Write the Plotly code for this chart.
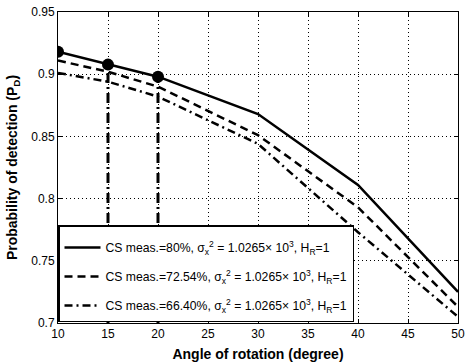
import plotly.graph_objects as go

angles = [10, 15, 20, 30, 40, 50]
pd_80 = [0.918, 0.9077, 0.898, 0.868, 0.811, 0.725]
pd_7254 = [0.911, 0.902, 0.890, 0.851, 0.793, 0.713]
pd_6640 = [0.901, 0.894, 0.882, 0.844, 0.773, 0.705]
marker_angles = [10, 15, 20]
drop_angles = [15, 20]

x_ticks = [10, 15, 20, 25, 30, 35, 40, 45, 50]
y_ticks = [0.7, 0.75, 0.8, 0.85, 0.9, 0.95]
y_labels = ["0.7", "0.75", "0.8", "0.85", "0.9", "0.95"]

suffix = ", σ<sub>x</sub><sup>2</sup> = 1.0265× 10<sup>3</sup>, H<sub>R</sub>=1"
names = ["CS meas.=80%" + suffix, "CS meas.=72.54%" + suffix, "CS meas.=66.40%" + suffix]

FONT = "Liberation Sans, Arial, Helvetica"

fig = go.Figure()

# vertical drop lines from the markers to the x-axis
for a in drop_angles:
    yv = pd_80[angles.index(a)]
    fig.add_trace(go.Scatter(x=[a, a], y=[y_ticks[0], yv], mode="lines",
                             line=dict(color="black", width=3, dash="10px,4px,2px,4px"),
                             showlegend=False, hoverinfo="skip"))

fig.add_trace(go.Scatter(x=angles, y=pd_80, mode="lines", name=names[0], legendgroup="a",
                         line=dict(color="black", width=2.5)))
fig.add_trace(go.Scatter(x=angles, y=pd_7254, mode="lines", name=names[1], legendgroup="b",
                         line=dict(color="black", width=2.5, dash="8px,5px")))
fig.add_trace(go.Scatter(x=angles, y=pd_6640, mode="lines", name=names[2], legendgroup="c",
                         line=dict(color="black", width=2.5, dash="8px,4px,2px,4px")))

fig.add_trace(go.Scatter(x=marker_angles, y=[pd_80[angles.index(a)] for a in marker_angles],
                         mode="markers", marker=dict(color="black", size=12),
                         showlegend=False, hoverinfo="skip"))

axis_common = dict(showline=True, linecolor="black", linewidth=1, mirror="allticks",
                   ticks="inside", ticklen=4, tickcolor="black",
                   showgrid=True, gridcolor="black", gridwidth=1, griddash="1px,3px",
                   zeroline=False, ticklabeloverflow="allow",
                   tickfont=dict(family=FONT, size=12, color="black"))

fig.update_xaxes(range=[10, 50], tickvals=x_ticks,
                 title=dict(text="<b>Angle of rotation (degree)</b>", standoff=8,
                            font=dict(family=FONT, size=14, color="black")),
                 **axis_common)
fig.update_yaxes(range=[0.7, 0.95], tickvals=y_ticks, ticktext=y_labels,
                 title=dict(text="<b>Probability of detection (P<sub>D</sub>)</b>", standoff=10,
                            font=dict(family=FONT, size=14, color="black")),
                 **axis_common)

fig.update_layout(
    width=470, height=364,
    margin=dict(l=58, r=8, t=5, b=40),
    paper_bgcolor="white", plot_bgcolor="white",
    font=dict(family=FONT, color="black"),
    legend=dict(x=0, y=0.003, xanchor="left", yanchor="bottom",
                bgcolor="white", bordercolor="black", borderwidth=1.5,
                font=dict(size=12.2, color="black"), tracegroupgap=10,
                itemwidth=36,
                title=dict(text=" ", font=dict(size=5))),
)

fig.write_html("out.html", config={"displayModeBar": False},
               post_script="document.body.style.margin='0';document.body.style.overflow='hidden';")
